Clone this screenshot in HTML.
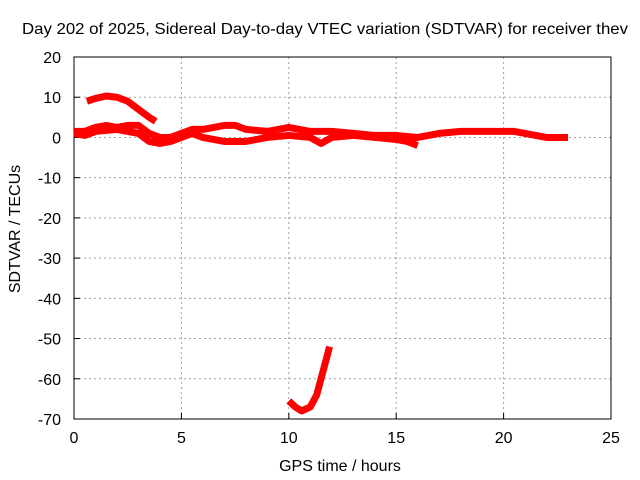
<!DOCTYPE html>
<html><head><meta charset="utf-8"><style>
body{margin:0;background:#fff}
svg{display:block;font-family:"Liberation Sans",sans-serif}
</style></head><body>
<svg id="c" width="640" height="480"></svg>
<script>
const xTicks=[0,5,10,15,20,25];
const yTicks=[20,10,0,-10,-20,-30,-40,-50,-60,-70];
const s1x=[0.6,1,1.5,2,2.5,3,3.5,3.8];
const s1y=[9,9.7,10.3,10,9,7,5,4];
const s2x=[0,0.5,1,1.5,2,2.5,3,3.5,4,4.5,5,5.5,6,7,7.5,8,9,10,10.5,11,12,13,14,15,16];
const s2y=[1.5,1.5,2.5,3,2.5,3,3,1,0,0,1,2,2,3,3,2,1.5,2.5,2,1.5,1.5,1,0.5,0.5,0];
const s3x=[0,0.5,1,2,2.5,3,3.5,4,4.5,5,5.5,6,6.5,7,8,9,10,11,11.5,12,13,14,15,15.5,16];
const s3y=[1,0.5,1.5,2,1.5,1,-1,-1.5,-1,0,1,0,-0.5,-1,-1,0,0.5,0,-1.5,0,0.5,0,-0.5,-1,-2];
const s4x=[14,15,16,17,18,19,20,20.5,21,21.5,22,23];
const s4y=[0.5,0,0,1,1.5,1.5,1.5,1.5,1,0.5,0,0];
const s5x=[10,10.3,10.6,11,11.3,11.6,11.9];
const s5y=[-65.5,-67,-68,-67,-64,-58,-52];
const L=74,R=611,T=57,B=419;
const X=v=>L+(v-0)/25*(R-L), Y=v=>T+(20-v)/90*(B-T);
const svg=document.getElementById('c');const NS='http://www.w3.org/2000/svg';
function add(tag,attrs,text){const e=document.createElementNS(NS,tag);for(const k in attrs)e.setAttribute(k,attrs[k]);if(text!==undefined)e.textContent=text;svg.appendChild(e);return e;}
xTicks.forEach(t=>{
 if(t>0&&t<25){const g=add('line',{x1:X(t),x2:X(t),y1:T,y2:B,stroke:'#a0a0a0','stroke-dasharray':'2,3'});}
 const k=add('line',{x1:X(t),x2:X(t),y1:B,y2:B-6,stroke:'#000'});
 const l=add('text',{x:X(t),y:B+24,'text-anchor':'middle','font-size':16},t);
});
yTicks.forEach(t=>{
 if(t<20&&t>-70){const g=add('line',{x1:L,x2:R,y1:Y(t),y2:Y(t),stroke:'#a0a0a0','stroke-dasharray':'2,3'});}
 const k=add('line',{x1:L,x2:L+6,y1:Y(t),y2:Y(t),stroke:'#000'});
 const l=add('text',{x:L-13,y:Y(t)+6,'text-anchor':'end','font-size':16},t);
});
const fr=add('rect',{x:L,y:T,width:R-L,height:B-T,fill:'none',stroke:'#000'});

[[s1x,s1y],[s2x,s2y],[s3x,s3y],[s4x,s4y],[s5x,s5y]].forEach((s,i)=>{
 const p=add('polyline',{points:s[0].map((x,j)=>X(x)+','+Y(s[1][j])).join(' '),fill:'none',stroke:'#ff0000','stroke-width':7,'stroke-linejoin':'round'});
 
});
const t=add('text',{x:22,y:34,'font-size':16,textLength:606,lengthAdjust:'spacingAndGlyphs'},'Day 202 of 2025, Sidereal Day-to-day VTEC variation (SDTVAR) for receiver thev');

const xt=add('text',{x:340,y:471,'text-anchor':'middle','font-size':16},'GPS time / hours');

const yt=add('text',{x:0,y:0,'text-anchor':'middle','font-size':16,transform:'translate(20,229) rotate(-90)'},'SDTVAR / TECUs');

</script>
</body></html>
